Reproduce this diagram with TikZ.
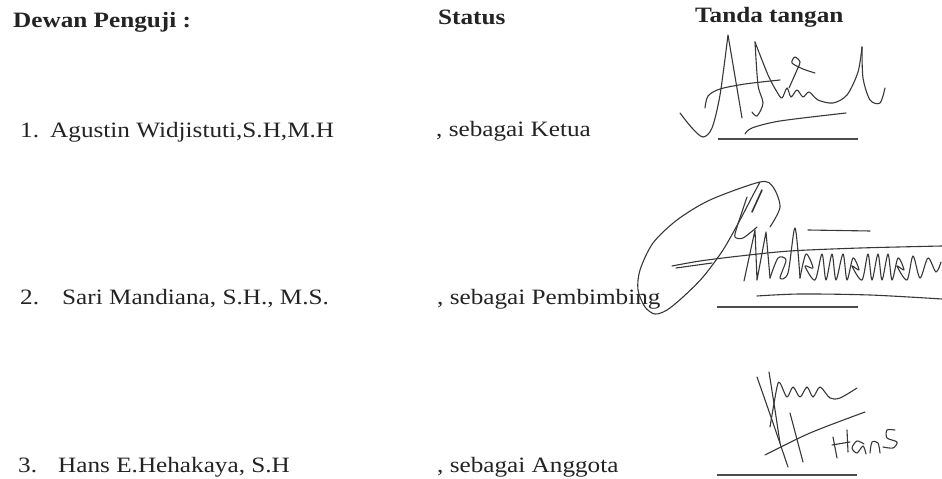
\documentclass[tikz,border=0pt]{standalone}
\usepackage{fontspec}
\setmainfont{Liberation Serif}[FakeStretch=1.15]
\usepackage{xcolor}
\definecolor{tinta}{RGB}{35,35,35}
\definecolor{pena}{RGB}{55,55,55}
\tikzset{
  teks/.style={anchor=base west, inner sep=0pt, text=tinta, font=\fontsize{22}{26}\selectfont},
  judul/.style={teks, font=\fontsize{22}{26}\selectfont\bfseries},
  ttd/.style={draw=pena, line width=1.1pt, line cap=round, line join=round},
  garis/.style={draw=gray!60!black, line width=1.2pt}
}

\begin{document}
\begin{tikzpicture}[x=1bp,y=-1bp]
    \useasboundingbox (0,0) rectangle (942,479);
    % judul kolom
    \node[judul] (dewan) at (13,28) {Dewan Penguji :};
    \node[judul] (status) at (438,25) {Status};
    \node[judul] (tanda) at (695,23) {Tanda tangan};
    % penguji
    \node[teks] (no1) at (20,138) {1.};
    \node[teks] (nama1) at (50,138) {Agustin Widjistuti,S.H,M.H};
    \node[teks] (stat1) at (436,137) {, sebagai Ketua};
    \node[teks] (no2) at (20,305) {2.};
    \node[teks] (nama2) at (62,305) {Sari Mandiana, S.H., M.S.};
    \node[teks] (stat2) at (437,305) {, sebagai Pembimbing};
    \node[teks] (no3) at (18,472) {3.};
    \node[teks] (nama3) at (58,472) {Hans E.Hehakaya, S.H};
    \node[teks] (stat3) at (437,472) {, sebagai Anggota};
    % garis tanda tangan
    \draw[garis] (718,139) -- (858,139);
    \draw[garis] (717,307) -- (858,307);
    \draw[garis] (717,475) -- (857,475);
\begin{scope}[ttd]
    % tanda tangan ketua
    \draw plot[smooth] coordinates {(680,113) (692,128) (703,137) (712,128) (720,95) (728,35)} -- (742,118);
    \draw plot[smooth] coordinates {(705,108) (708,96) (720,89) (745,84) (780,80)};
    \draw plot[smooth] coordinates {(752,112) (757,116) (763,103) (758,85) (755,42)};
    \draw plot[smooth] coordinates {(755,42) (768,75) (777,92) (782,98) (787,88) (791,97) (797,90) (803,97) (809,92) (818,100) (833,103) (847,95) (858,72) (862,47)};
    \draw plot[smooth] coordinates {(862,47) (863,78) (870,100) (880,103) (885,88)};
    \draw plot[smooth] coordinates {(789,88) (797,70) (800,62) (795,57) (792,63) (803,69) (815,73)};
    \draw plot[smooth] coordinates {(745,134) (752,128) (780,121) (846,113)};
    % tanda tangan pembimbing
    \draw plot[smooth] coordinates {(770,227) (780,207) (773,187) (760,182) (710,200) (677,220) (653,243) (640,270) (638,290) (645,307) (655,314) (667,310) (683,297) (703,277) (723,250) (740,220) (752,197) (760,182)};
    \draw[line width=1.6pt] (762,190) -- (752,212);
    \draw plot[smooth] coordinates {(747,197) (737,227) (735,237) (743,238) (757,227)};
    \draw plot[smooth] coordinates {(672,266) (700,261) (740,256) (790,251) (860,248) (942,246)};
    \draw (676,268) -- (712,263);
    \draw (744,281) -- (755,230) -- (757,280) -- (766,232) -- (770,278);
    \draw plot[smooth] coordinates {(770,278) (778,258) (786,260) (780,278) (788,273) (795,228) (800,278)};
    \draw (808,230) -- (870,231);
    \draw plot[smooth] coordinates {(800,278) (806,254) (813,268) (805,266) (815,280) (822,254) (826,280) (832,254) (836,280) (843,254) (847,280) (853,258) (859,270) (852,266) (862,280) (868,254) (872,280) (878,254) (882,280) (888,254) (892,280) (898,258) (904,270) (897,266) (907,280) (913,256) (920,278) (928,258) (936,272) (941,262)};
    \draw plot[smooth] coordinates {(757,296) (800,294) (870,295) (942,299)};
    % tanda tangan anggota
    \draw plot[smooth] coordinates {(757,377) (772,420) (788,467)};
    \draw plot[smooth] coordinates {(769,372) (775,410) (780,443)};
    \draw (790,413) -- (803,462);
    \draw plot[smooth] coordinates {(765,455) (810,433) (865,412)};
    \draw plot[smooth] coordinates {(770,427) (777,387) (780,383) (787,397) (793,387) (800,397) (807,387) (813,397) (820,387) (830,398) (840,398) (857,388)};
    \draw (833,437) -- (837,458);
    \draw (847,430) -- (848,452);
    \draw (832,445) -- (850,442);
    \draw plot[smooth] coordinates {(864,444) (857,441) (852,448) (857,453) (863,446) (866,454)};
    \draw plot[smooth] coordinates {(870,453) (872,442) (878,443) (880,453)};
    \draw plot[smooth] coordinates {(895,430) (887,430) (887,438) (897,442) (893,448) (883,447)};
\end{scope}
\end{tikzpicture}
\end{document}
